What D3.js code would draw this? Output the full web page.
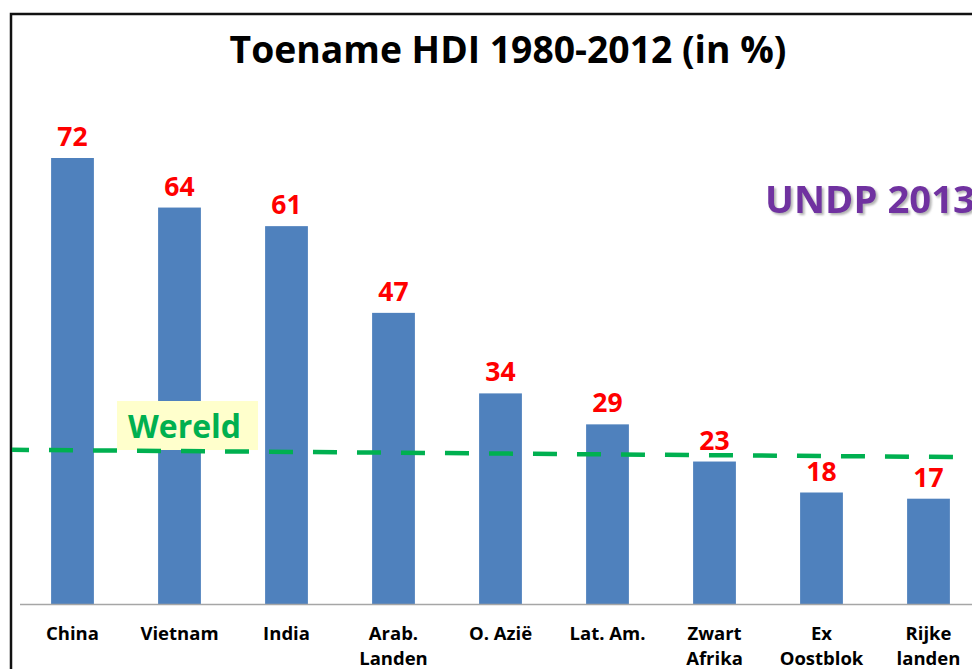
<!DOCTYPE html>
<html><head><meta charset="utf-8">
<script src="https://cdn.jsdelivr.net/npm/d3@7"></script>
<style>body{margin:0;background:#fff}svg{display:block}</style>
</head><body>
<script>
const categories = [["China"],["Vietnam"],["India"],["Arab.","Landen"],["O. Azië"],["Lat. Am."],["Zwart","Afrika"],["Ex","Oostblok"],["Rijke","landen"]];
const values = [72,64,61,47,34,29,23,18,17];
const worldLine = [24.9, 23.7]; // dashed "Wereld" line, left end / right end
const title = "Toename HDI 1980-2012 (in %)";
const sourceLabel = "UNDP 2013";
const worldLabel = "Wereld";

const W = 972, H = 669;
const svg = d3.select("body").append("svg").attr("width", W).attr("height", H);
const FONT = "'Open Sans', 'DejaVu Sans', sans-serif";

const defs = svg.append("defs");
const f = defs.append("filter").attr("id", "shadow").attr("x", "-10%").attr("y", "-20%").attr("width", "130%").attr("height", "150%");
f.append("feDropShadow").attr("dx", 2).attr("dy", 2).attr("stdDeviation", 1).attr("flood-color", "#808080").attr("flood-opacity", 0.6);

// frame
svg.append("rect").attr("x", 11).attr("y", 14).attr("width", 1100).attr("height", 800)
  .attr("fill", "none").attr("stroke", "#111").attr("stroke-width", 2.5);

const x = d3.scaleBand().domain(d3.range(categories.length)).range([19, 982]).paddingInner(0.6).paddingOuter(0.3);
const y = d3.scaleLinear().domain([0, 72]).range([604, 158]);

function fit(sel, target) {
  const fs = parseFloat(sel.attr("font-size"));
  const w = sel.node().getComputedTextLength();
  sel.attr("font-size", (fs * target / w).toFixed(2));
}

// title
const t = svg.append("text").attr("x", 508).attr("y", 63).attr("text-anchor", "middle")
  .attr("font-family", FONT).attr("font-weight", "bold").attr("font-size", 35).attr("fill", "#000").text(title);
fit(t, 557);

// bars
svg.append("g").selectAll("rect").data(values).join("rect")
  .attr("x", (d, i) => x(i)).attr("width", x.bandwidth())
  .attr("y", d => y(d)).attr("height", d => y(0) - y(d))
  .attr("fill", "#4F81BD");

// baseline axis
const axis = d3.axisBottom(x).tickSize(0).tickFormat("");
const ag = svg.append("g").attr("transform", `translate(0,${y(0)})`).call(axis);
ag.select(".domain").attr("stroke", "#A6A6A6").attr("stroke-width", 1.5).attr("d", "M20,0.5H972");

// category labels
const cl = svg.append("g").selectAll("text").data(categories).join("text")
  .attr("text-anchor", "middle").attr("font-family", FONT).attr("font-weight", "bold")
  .attr("font-size", 18.5).attr("fill", "#000");
cl.selectAll("tspan").data((d, i) => d.map(s => ({ s, i }))).join("tspan")
  .attr("x", d => x(d.i) + x.bandwidth() / 2)
  .attr("y", (d, j) => 640 + j * 25)
  .text(d => d.s);

// value labels
svg.append("g").selectAll("text").data(values).join("text")
  .attr("x", (d, i) => x(i) + x.bandwidth() / 2).attr("y", d => y(d) - 12)
  .attr("text-anchor", "middle").attr("font-family", FONT).attr("font-weight", "bold")
  .attr("font-size", 26.5).attr("fill", "#FF0000").text(d => d);

// world label box
svg.append("rect").attr("x", 117).attr("y", 401).attr("width", 141).attr("height", 49).attr("fill", "#FFFFCC");
const wl = svg.append("text").attr("x", 128).attr("y", 438).attr("font-family", FONT).attr("font-weight", "bold")
  .attr("font-size", 31).attr("fill", "#00B050").text(worldLabel);
fit(wl, 113);

// world dashed line
const lx = d3.scaleLinear().domain([0, worldLine.length - 1]).range([12, 972]);
svg.append("path").datum(worldLine)
  .attr("d", d3.line().x((d, i) => lx(i)).y(d => y(d)))
  .attr("fill", "none").attr("stroke", "#00B050").attr("stroke-width", 4.5)
  .attr("stroke-dasharray", "24,20").attr("stroke-dashoffset", 7);

// source label with shadow
const sl = svg.append("text").attr("x", 765).attr("y", 213).attr("font-family", FONT).attr("font-weight", "bold")
  .attr("font-size", 42).attr("fill", "#7030A0").attr("filter", "url(#shadow)").text(sourceLabel);
fit(sl, 210);
</script>
</body></html>
